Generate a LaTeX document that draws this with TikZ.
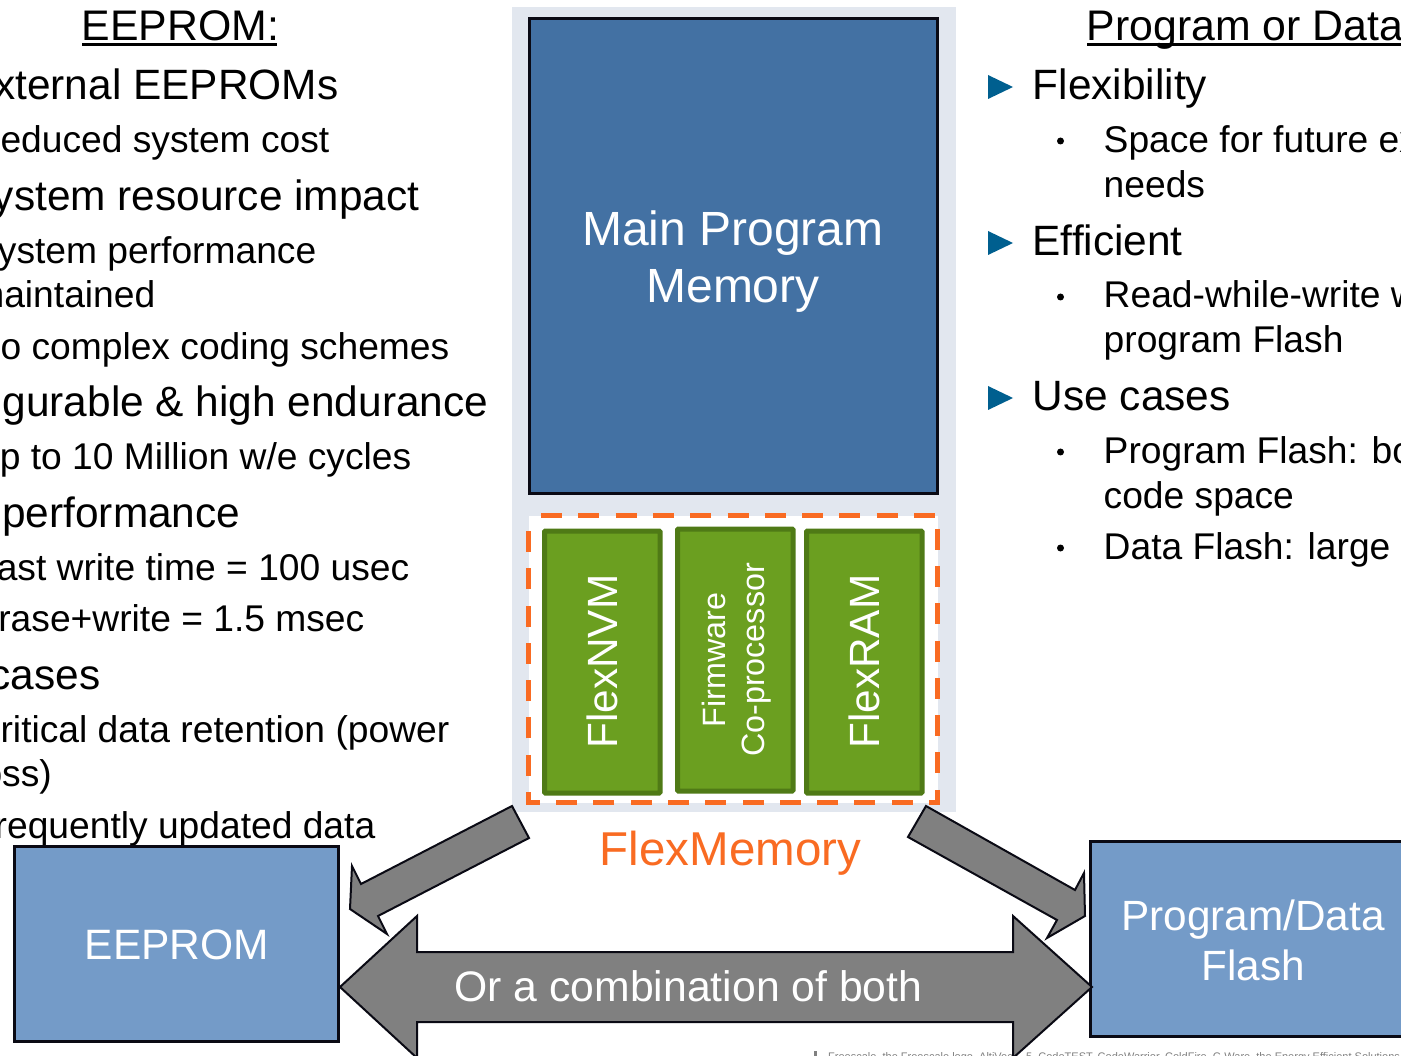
\documentclass[tikz,border=0pt]{standalone}
\usepackage{fontspec}
\setmainfont{Liberation Sans}
\definecolor{panel}{HTML}{E2E7EF}
\definecolor{mainblue}{HTML}{4371A3}
\definecolor{lightblue}{HTML}{749BC8}
\definecolor{flexorange}{HTML}{F96B22}
\definecolor{gfill}{HTML}{6B9F20}
\definecolor{gedge}{HTML}{4F7A16}
\definecolor{arrowgray}{HTML}{808080}
\definecolor{bulletblue}{HTML}{005F8F}
\definecolor{edgeblack}{HTML}{0A0A14}
\newcommand{\fs}[1]{\fontsize{#1}{#1}\selectfont}
\tikzset{
 x=1pt,y=-1pt,
 lhead/.style={anchor=base east,inner sep=0,font=\fs{42.4},text=black},
 lsub/.style={anchor=base east,inner sep=0,font=\fs{37.2},text=black},
 rhead/.style={anchor=base west,inner sep=0,font=\fs{42.4},text=black},
 rsub/.style={anchor=base west,inner sep=0,font=\fs{37.2},text=black},
 title/.style={anchor=base west,inner sep=0,font=\fs{42.8},text=black},
 tri/.style={fill=bulletblue,draw=none},
 dotb/.style={circle,fill=black,inner sep=0,minimum size=7pt},
 greenbox/.style={draw=gedge,fill=gfill,line width=5pt,rounded corners=1pt,inner sep=0},
 fat/.style={draw=edgeblack,fill=arrowgray,line width=2pt,line join=miter},
 bluebox/.style={draw=edgeblack,fill=lightblue,line width=3pt},
 wlabel/.style={text=white,inner sep=0,align=center},
}
\begin{document}
\begin{tikzpicture}
\useasboundingbox (0,0) rectangle (1401,1056);
\clip (0,0) rectangle (1401,1056);
\fill[white] (0,0) rectangle (1401,1056);

% left column
\node[title] (t1) at (81.5,41) {EEPROM:};
\draw[line width=2.5pt,draw=black] (82,44.5) -- (277,44.5);
\node[lhead] (l1) at (338.5,100) {xternal EEPROMs};
\node[lsub] (l2) at (329.5,153) {educed system cost};
\node[lhead] (l3) at (419.5,211) {ystem resource impact};
\node[lsub] (l4) at (316.5,264) {ystem performance};
\node[lsub] (l5) at (155.5,308) {maintained};
\node[lsub] (l6) at (449.5,360) {o complex coding schemes};
\node[lhead] (l7) at (488.5,417) {gurable \& high endurance};
\node[lsub] (l8) at (411.5,470) {p to 10 Million w/e cycles};
\node[lhead] (l9) at (240.5,527.5) {performance};
\node[lsub] (l10) at (409.5,580) {ast write time = 100 usec};
\node[lsub] (l11) at (364.5,631) {rase+write = 1.5 msec};
\node[lhead] (l12) at (100.5,689) {cases};
\node[lsub] (l13) at (449.5,742) {ritical data retention (power};
\node[lsub] (l14) at (52,786) {oss)};
\node[lsub] (l15) at (375.5,838) {requently updated data};

% right column
\node[title] (t2) at (1086.5,41) {Program or Data};
\draw[line width=2.5pt,draw=black] (1087,44.5) -- (1401,44.5);
\foreach \yy in {87,243,398}{\fill[tri] (988,\yy-12) -- (1013,\yy) -- (988,\yy+12) -- cycle;}
\foreach \yy in {141,297,452,548}{\node[dotb] at (1060.5,\yy) {};}
\node[rhead] (r1) at (1032.5,100) {Flexibility};
\node[rsub] (r2) at (1103.5,153) {Space for future ex};
\node[rsub] (r3) at (1103.5,198) {needs};
\node[rhead] (r4) at (1032.5,255.5) {Efficient};
\node[rsub] (r5) at (1103.5,308) {Read-while-write w};
\node[rsub] (r6) at (1103.5,353) {program Flash};
\node[rhead] (r7) at (1032.5,410.5) {Use cases};
\node[rsub] (r8) at (1103.5,464) {Program Flash: bo};
\node[rsub] (r9) at (1103.5,508) {code space};
\node[rsub] (r10) at (1103.5,559) {Data Flash: large d};

% centre panel
\fill[panel] (512,7) rectangle (956,812);
\draw[draw=edgeblack,fill=mainblue,line width=3pt] (529,19) rectangle (937,494);
\node[wlabel,font=\fs{48}] (mainlbl) at (733,262) {Main Program\\[9pt]Memory};
\fill[white] (529,516) rectangle (938,803);
\draw[flexorange,line width=5pt,dash pattern=on 21pt off 16.3pt,dash phase=25pt]
  (528.7,515) -- (937.7,515) -- (937.7,802) -- (528.7,802) -- cycle;
\draw[greenbox] (544.5,531) rectangle (660,793);
\draw[greenbox] (677.5,529) rectangle (793,791);
\draw[greenbox] (806.5,531) rectangle (922,793);
\node[wlabel,rotate=90,font=\fs{42.3}] (nvm) at (602,661.5) {FlexNVM};
\node[wlabel,rotate=90,font=\fs{32.3}] (fw) at (736.5,660) {Firmware\\[7pt]Co-processor};
\node[wlabel,rotate=90,font=\fs{42.3}] (ram) at (864,661.5) {FlexRAM};
\node[anchor=base,inner sep=0,text=flexorange,font=\fs{47.5}] (flexlbl) at (730.5,865) {FlexMemory};

% footer
\node[anchor=base west,inner sep=0,text=gray,font=\fs{11}] (foot) at (828,1060) {Freescale, the Freescale logo, AltiVec};
\node[anchor=base west,inner sep=0,text=gray,font=\fs{11}] (foot2) at (1026,1060) {5, CodeTEST, CodeWarrior, ColdFire, C-Ware, the Energy Efficient Solutions};
\fill[gray] (814,1051) rectangle (816.5,1056);

% boxes
\node[bluebox,minimum width=324pt,minimum height=195pt,inner sep=0,anchor=north west] (eep) at (13,845) {};
\node[wlabel,font=\fs{42.5}] (eeplbl) at (177,945) {EEPROM};
\node[bluebox,minimum width=340pt,minimum height=195pt,inner sep=0,anchor=north west] (pdf) at (1089,840) {};
\node[wlabel,font=\fs{42.3}] (pdflbl) at (1253,940.5) {Program/Data\\[8pt]Flash};

% arrows
\draw[fat] (512,806) -- (529,838) -- (378,916) -- (387,934) -- (350,909) -- (352,866) -- (361,884) -- cycle;
\draw[fat] (926,806) -- (1075,890) -- (1084,873) -- (1085,916) -- (1047,938) -- (1057,920) -- (908,837) -- cycle;
\draw[fat] (340,987) -- (417,916) -- (417,952) -- (1013,952) -- (1013,916) -- (1092,987) -- (1013,1058) -- (1013,1022) -- (417,1022) -- (417,1058) -- cycle;
\node[wlabel,font=\fs{42.7}] (both) at (688.5,986) {Or a combination of both};
\end{tikzpicture}
\end{document}
